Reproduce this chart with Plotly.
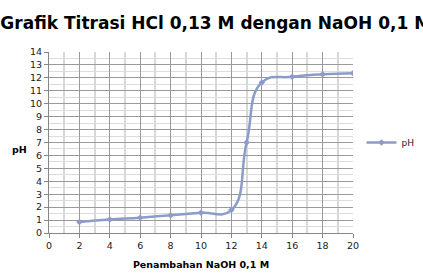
import plotly.graph_objects as go

volume_naoh = [2, 4, 6, 8, 10, 12, 13, 14, 16, 18, 20]
ph_values = [0.85, 1.05, 1.18, 1.38, 1.56, 1.77, 7.0, 11.65, 12.08, 12.28, 12.36]

title_text = "Grafik Titrasi HCl 0,13 M dengan NaOH 0,1 M"
x_title = "Penambahan NaOH 0,1 M"
y_title = "pH"
series_name = "pH"

W, H = 423, 275
L, R, T, B = 49, 69.5, 51.5, 41.7

line_color = "#8c9cc8"

fig = go.Figure()
fig.add_trace(go.Scatter(
    x=volume_naoh, y=ph_values, name=series_name,
    mode="lines+markers",
    line=dict(color=line_color, width=2.5, shape="spline", smoothing=1.3),
    marker=dict(symbol="diamond", size=5, color=line_color),
))

fig.update_layout(
    width=W, height=H,
    margin=dict(l=L, r=R, t=T, b=B, pad=0, autoexpand=False),
    paper_bgcolor="white", plot_bgcolor="white",
    title=dict(text="<b>" + title_text + "</b>", x=0.51, xanchor="center",
               y=1 - 23.5 / H, yanchor="middle", yref="container",
               font=dict(family="DejaVu Sans", size=17, color="black")),
    showlegend=True,
    legend=dict(x=(362 - L) / (W - L - R), xanchor="left", y=0.5, yanchor="middle",
                font=dict(family="DejaVu Sans", size=9, color="#222"),
                bgcolor="rgba(0,0,0,0)", itemwidth=30),
    font=dict(family="DejaVu Sans", size=9, color="#222"),
    annotations=[dict(text="<b>" + y_title + "</b>", xref="paper", yref="paper",
                      x=(19 - L) / (W - L - R), y=(H - B - 149) / (H - T - B),
                      xanchor="center", yanchor="middle", showarrow=False,
                      font=dict(family="DejaVu Sans", size=9.5, color="black"))],
)

fig.update_xaxes(
    range=[0, 20], dtick=2, tick0=0, automargin=False,
    showgrid=True, gridcolor="#9a9a9a", gridwidth=1,
    minor=dict(dtick=1, showgrid=True, gridcolor="#d8d8d8", gridwidth=1.5,
               ticks="", ),
    showline=True, linecolor="#868686", linewidth=1,
    ticks="outside", ticklen=4, tickcolor="#868686",
    tickfont=dict(family="DejaVu Sans", size=9.5, color="#222"),
    zeroline=False,
    title=dict(text="<b>" + x_title + "</b>", standoff=10,
               font=dict(family="DejaVu Sans", size=9.5, color="black")),
)
fig.update_yaxes(
    range=[0, 14], dtick=1, tick0=0, automargin=False,
    showgrid=True, gridcolor="#9a9a9a", gridwidth=1,
    minor=dict(dtick=0.5, showgrid=True, gridcolor="#dcdcdc", gridwidth=1, ticks=""),
    showline=True, linecolor="#868686", linewidth=1,
    ticks="outside", ticklen=4, tickcolor="#868686",
    tickfont=dict(family="DejaVu Sans", size=9.5, color="#222"),
    zeroline=False,
)

fig.write_html("out.html")
